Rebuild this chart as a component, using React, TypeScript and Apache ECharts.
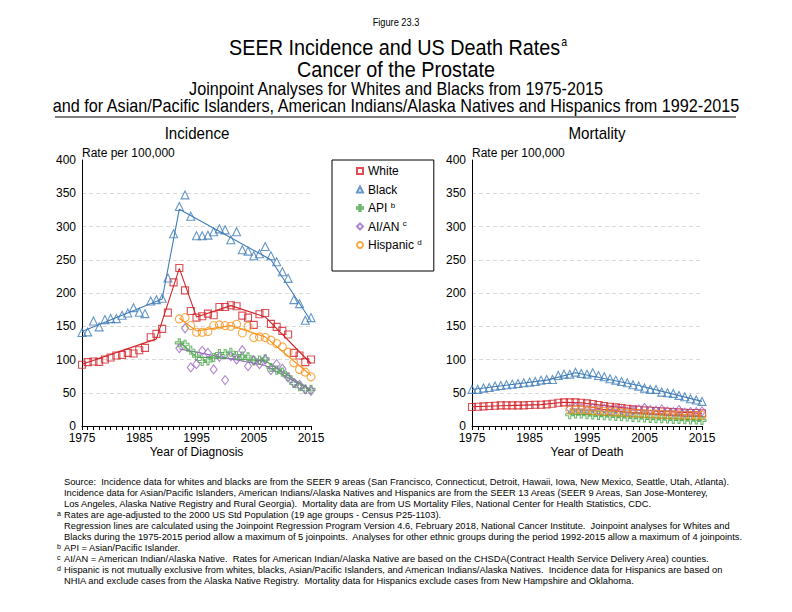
import React, { useEffect, useRef } from "react";
import * as echarts from "echarts";

// ---------- data ----------
const fullStart = 1975; // whites & blacks
const groupStart = 1992; // API, AI/AN, Hispanic

const incWhite = [92, 96, 97, 96.5, 100, 103, 106, 107, 110, 109, 114, 117.5, 133.5, 138.5, 146, 170.5, 216, 237.5, 204, 173, 163, 165, 169, 166.5, 179, 179, 181.5, 180, 166, 163, 152, 168, 170, 153.5, 149, 143, 137.5, 110, 106, 96, 100];
const incBlack = [140.5, 141.5, 158, 149, 160, 161.5, 161.5, 166.5, 170, 178, 171, 169, 188, 190, 192, 222.5, 289, 330, 347.5, 315.5, 286, 286, 287, 292, 296.5, 295, 280, 292, 265, 263, 256, 259, 270, 256, 247, 232, 222, 190, 184, 159, 163];
const incAPI = [125, 123, 114, 105, 97, 98, 103, 109, 109, 111, 106, 105, 104, 98, 99, 101, 88, 84, 81, 74, 64, 59, 55, 55];
const incAIAN = [117, 147, 88, 93, 113, 110, 85, 104, 69, 105, 100, 114, 90, 99, 93, 100, 84, 93, 86, 73, 65, 62, 55, 53];
const incHisp = [161, 163, 151, 141, 141, 142, 151, 152, 151, 150, 153, 140, 150, 133, 134, 133, 129, 124, 119, 111, 95, 85, 81, 74];

const incWhiteFit = [[1975, 93], [1988, 131], [1992, 237], [1995, 164], [2001, 181], [2007, 164], [2015, 94]];
const incBlackFit = [[1975, 142], [1989, 191], [1992, 326], [2008, 250], [2015, 158]];
const incAPIFit = [[1992, 127], [1995, 104], [2007, 98], [2015, 54]];
const incAIANFit = [[1992, 116], [2007, 91], [2015, 54]];
const incHispFit = [[1992, 162], [1995, 143], [2001, 151], [2007, 134], [2015, 76]];

const morWhite = [28.5, 29, 29.5, 30, 30.5, 31, 31, 31, 31, 31, 31.5, 32, 32, 32.5, 33.5, 35, 35.5, 35.5, 35.5, 35, 34, 33, 31.5, 30, 29, 28, 27, 26, 25, 24.5, 23.5, 23, 22.5, 22, 21.5, 21, 20.5, 20, 19.5, 19.5, 19];
const morBlack = [55, 55, 57, 58, 60, 61, 62, 63, 64, 65, 66, 67, 69, 70, 70, 76, 78, 78, 81, 79, 78, 80, 76, 74, 71, 69, 67, 65, 62, 60, 57, 55, 55, 51, 50, 49, 46, 44, 41, 39, 37];
const morAPI = [17, 18, 18, 17, 16.5, 16, 15.5, 15, 14.5, 14, 13.5, 13, 12.5, 12, 11.5, 11, 11, 10.5, 10, 10, 9.5, 9, 9, 8.5];
const morAIAN = [26, 28, 27, 25, 27, 24, 26, 23, 25, 24, 22, 23, 25, 27, 24, 23, 25, 22, 21, 24, 20, 21, 21, 22];
const morHisp = [24, 25, 24.5, 24, 23, 22.5, 22, 21.5, 21, 20.5, 20, 19.5, 19, 18.5, 18, 18, 17.5, 17, 17, 16.5, 16, 16, 16, 16];

const morWhiteFit = [[1975, 29], [1987, 32.2], [1991, 35.6], [1994, 35], [2005, 23.5], [2015, 19]];
const morBlackFit = [[1975, 55], [1988, 69], [1993, 80], [2004, 61], [2015, 37]];
const morAPIFit = [[1992, 18], [1995, 17.2], [2015, 8.7]];
const morAIANFit = [[1992, 26], [2015, 21.5]];
const morHispFit = [[1992, 24.7], [2015, 16]];

const yMax = 400;
const yStep = 50;

const footnotes = [
  ["", "Source:  Incidence data for whites and blacks are from the SEER 9 areas (San Francisco, Connecticut, Detroit, Hawaii, Iowa, New Mexico, Seattle, Utah, Atlanta)."],
  ["", "Incidence data for Asian/Pacific Islanders, American Indians/Alaska Natives and Hispanics are from the SEER 13 Areas (SEER 9 Areas, San Jose-Monterey,"],
  ["", "Los Angeles, Alaska Native Registry and Rural Georgia).  Mortality data are from US Mortality Files, National Center for Health Statistics, CDC."],
  ["a", "Rates are age-adjusted to the 2000 US Std Population (19 age groups - Census P25-1103)."],
  ["", "Regression lines are calculated using the Joinpoint Regression Program Version 4.6, February 2018, National Cancer Institute.  Joinpoint analyses for Whites and"],
  ["", "Blacks during the 1975-2015 period allow a maximum of 5 joinpoints.  Analyses for other ethnic groups during the period 1992-2015 allow a maximum of 4 joinpoints."],
  ["b", "API = Asian/Pacific Islander."],
  ["c", "AI/AN = American Indian/Alaska Native.  Rates for American Indian/Alaska Native are based on the CHSDA(Contract Health Service Delivery Area) counties."],
  ["d", "Hispanic is not mutually exclusive from whites, blacks, Asian/Pacific Islanders, and American Indians/Alaska Natives.  Incidence data for Hispanics are based on"],
  ["", "NHIA and exclude cases from the Alaska Native Registry.  Mortality data for Hispanics exclude cases from New Hampshire and Oklahoma."],
];

// ---------- styles ----------
const C = {
  white: "#d2232a",
  black: "#3f7cb8",
  api: "#4aa84a",
  aian: "#9a68c4",
  hisp: "#f7941d",
};
const SANS = "'Liberation Sans', Arial, sans-serif";
const CROSS = "path://M3,0 L5,0 L5,3 L8,3 L8,5 L5,5 L5,8 L3,8 L3,5 L0,5 L0,3 L3,3 Z";

const pair = (start: number, vals: number[]) => vals.map((v, i) => [start + i, v]);

const groups = [
  { name: "White", color: C.white, symbol: "rect", size: 7, inc: pair(fullStart, incWhite), incFit: incWhiteFit, mor: pair(fullStart, morWhite), morFit: morWhiteFit },
  { name: "Black", color: C.black, symbol: "triangle", size: 8, inc: pair(fullStart, incBlack), incFit: incBlackFit, mor: pair(fullStart, morBlack), morFit: morBlackFit },
  { name: "API", color: C.api, symbol: CROSS, size: 8, inc: pair(groupStart, incAPI), incFit: incAPIFit, mor: pair(groupStart, morAPI), morFit: morAPIFit },
  { name: "AI/AN", color: C.aian, symbol: "diamond", size: [7, 9], inc: pair(groupStart, incAIAN), incFit: incAIANFit, mor: pair(groupStart, morAIAN), morFit: morAIANFit },
  { name: "Hispanic", color: C.hisp, symbol: "circle", size: 8, inc: pair(groupStart, incHisp), incFit: incHispFit, mor: pair(groupStart, morHisp), morFit: morHispFit },
];

const legendSup: Record<string, string> = { API: "b", "AI/AN": "c", Hispanic: "d" };

function makeXAxis(gridIndex: number, name: string) {
  return {
    type: "value",
    gridIndex,
    min: 1975,
    max: 2015,
    interval: 10,
    name,
    nameLocation: "middle",
    nameGap: 20,
    nameTextStyle: { fontSize: 12, fontFamily: SANS, color: "#000" },
    axisLine: { show: true, onZero: false, lineStyle: { color: "#000", width: 1 } },
    axisTick: { show: true, length: 4, lineStyle: { color: "#000" } },
    minorTick: { show: true, splitNumber: 10, length: 4, lineStyle: { color: "#000" } },
    axisLabel: { fontSize: 12, fontFamily: SANS, color: "#000", margin: 6, formatter: (v: number) => String(v) },
    splitLine: { show: false },
  };
}

function makeYAxis(gridIndex: number) {
  const gridColors = [];
  for (let v = 0; v <= yMax; v += yStep) gridColors.push(v === 0 || v === yMax ? "rgba(0,0,0,0)" : "#d9d9d9");
  return {
    type: "value",
    gridIndex,
    min: 0,
    max: yMax,
    interval: yStep,
    name: "Rate per 100,000",
    nameLocation: "end",
    nameGap: 1,
    nameTextStyle: { fontSize: 12, fontFamily: SANS, color: "#000", align: "left", verticalAlign: "bottom", padding: [0, 0, 0, 0] },
    axisLine: { show: true, lineStyle: { color: "#000", width: 1 } },
    axisTick: { show: false },
    axisLabel: { fontSize: 12, fontFamily: SANS, color: "#000", margin: 6 },
    splitLine: { show: true, lineStyle: { color: gridColors, type: [4, 3], width: 1 } },
  };
}

function titleText(x: number, y: number, text: string, fontSize: number, scaleX: number, rich?: any) {
  return {
    type: "text",
    x,
    y,
    scaleX,
    style: { x: 0, y: 0, text, fontSize, fontFamily: SANS, fill: "#000", align: "center", verticalAlign: "middle", rich },
  };
}

function buildOption() {
  const series: any[] = [];
  groups.forEach((g) => {
    [0, 1].forEach((ax) => {
      series.push({
        name: g.name + (ax === 0 ? " incidence trend" : " mortality trend"),
        type: "line",
        xAxisIndex: ax,
        yAxisIndex: ax,
        data: ax === 0 ? g.incFit : g.morFit,
        showSymbol: false,
        symbol: "none",
        lineStyle: { color: g.color, width: 1.1 },
        z: 2,
        silent: true,
      });
      series.push({
        name: g.name,
        type: "scatter",
        xAxisIndex: ax,
        yAxisIndex: ax,
        data: ax === 0 ? g.inc : g.mor,
        symbol: g.symbol,
        symbolSize: g.size,
        itemStyle: { color: "rgba(255,255,255,0)", borderColor: g.color, borderWidth: 1.1 },
        z: 3,
      });
    });
  });

  const graphic: any[] = [
    titleText(396, 22, "Figure 23.3", 10.5, 0.88),
    titleText(398, 47, "SEER Incidence and US Death Rates{sup|a}", 22.5, 0.88, {
      sup: { fontSize: 12, fontFamily: SANS, verticalAlign: "top", lineHeight: 22, padding: [0, 0, 10, 1] },
    }),
    titleText(396, 69, "Cancer of the Prostate", 22.5, 0.88),
    titleText(396, 89, "Joinpoint Analyses for Whites and Blacks from 1975-2015", 18, 0.9),
    titleText(396, 106, "and for Asian/Pacific Islanders, American Indians/Alaska Natives and Hispanics from 1992-2015", 18, 0.9),
    { type: "line", shape: { x1: 55, y1: 117, x2: 736, y2: 117 }, style: { stroke: "#000", lineWidth: 1 } },
    titleText(197, 133, "Incidence", 17, 0.89),
    titleText(597, 133, "Mortality", 17, 0.89),
  ];
  footnotes.forEach(([mark, txt], i) => {
    const y = 482 + i * 11;
    if (mark) {
      graphic.push({ type: "text", style: { x: 57, y: y - 2, text: mark, fontSize: 7, fontFamily: SANS, fill: "#000", align: "left", verticalAlign: "middle" } });
    }
    graphic.push({ type: "text", style: { x: 64, y, text: txt, fontSize: 9.3, fontFamily: SANS, fill: "#000", align: "left", verticalAlign: "middle" } });
  });

  return {
    animation: false,
    backgroundColor: "#fff",
    grid: [
      { left: 82, top: 160, width: 229, height: 266 },
      { left: 472, top: 160, width: 230, height: 266 },
    ],
    xAxis: [makeXAxis(0, "Year of Diagnosis"), makeXAxis(1, "Year of Death")],
    yAxis: [makeYAxis(0), makeYAxis(1)],
    legend: {
      orient: "vertical",
      left: 332,
      top: 160,
      data: groups.map((g) => g.name),
      selectedMode: false,
      itemWidth: 6,
      itemHeight: 6,
      itemGap: 4.5,
      padding: [4, 12, 19, 24],
      borderColor: "#000",
      borderWidth: 1,
      textStyle: {
        fontSize: 12, fontFamily: SANS, color: "#000", lineHeight: 14,
        rich: { sup: { fontSize: 8, fontFamily: SANS, color: "#000", verticalAlign: "top", lineHeight: 8, padding: [0, 0, 4, 0] } },
      },
      formatter: (name: string) => (legendSup[name] ? `${name} {sup|${legendSup[name]}}` : name),
    },
    graphic,
    series,
  };
}

export default function App() {
  const ref = useRef<HTMLDivElement>(null);
  useEffect(() => {
    if (!ref.current) return;
    const chart = echarts.init(ref.current, undefined, { renderer: "svg" });
    chart.setOption(buildOption() as any);
    return () => chart.dispose();
  }, []);
  return <div ref={ref} style={{ position: "absolute", left: 0, top: 0, width: 792, height: 612 }} />;
}
